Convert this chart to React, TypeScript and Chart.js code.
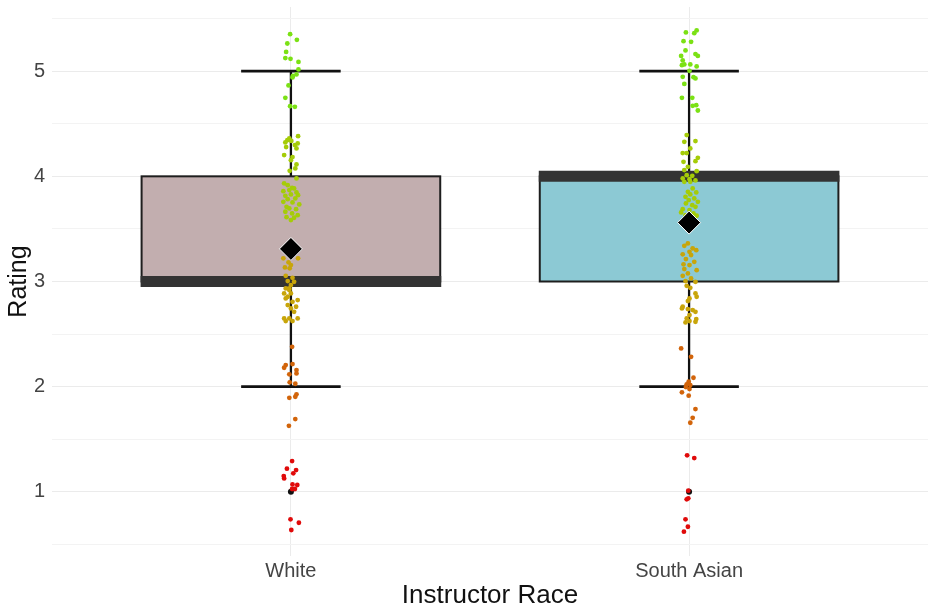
import React, { useEffect, useRef } from 'react';
import { Chart, registerables } from 'chart.js';

Chart.register(...registerables);

const categories = ['White', 'South Asian'];
const boxQ1 = [3, 3];
const boxMedian = [3, 4];
const boxQ3 = [4, 4];
const whiskerLow = [2, 2];
const whiskerHigh = [5, 5];
const means = [3.31, 3.56];
const outliers = [1, 1];
const boxColors = ['#C2AEAF', '#8CC9D4'];
const yTickValues = [0.5, 1, 1.5, 2, 2.5, 3, 3.5, 4, 4.5, 5, 5.5];
const ratingColors: Record<number, string> = {
  1: '#E00A0A',
  2: '#D2640A',
  3: '#C8A50A',
  4: '#A5CC08',
  5: '#7BE114',
};

// jittered observations: [horizontal jitter offset, jittered rating]
const whitePoints: number[][] = [
  [-0.002, 5.352], [0.015, 5.298], [-0.009, 5.263], [-0.012, 5.183], [-0.014, 5.124], [-0.001, 5.117],
  [0.019, 5.088], [0.019, 5.016], [0.014, 4.969], [0.005, 4.955], [0.004, 4.94], [-0.006, 4.864],
  [-0.014, 4.746], [-0.002, 4.667], [0.01, 4.661],
  [0.018, 4.382], [-0.004, 4.36], [-0.009, 4.344], [0.001, 4.337], [-0.014, 4.322], [0.017, 4.313],
  [0.01, 4.297], [-0.012, 4.278], [0.014, 4.265], [-0.017, 4.202], [0.004, 4.183], [0.0, 4.154],
  [0.014, 4.113], [0.011, 4.075], [-0.003, 4.052], [0.014, 3.98], [-0.017, 3.933], [-0.008, 3.916],
  [0.003, 3.891], [-0.019, 3.859], [-0.004, 3.869], [0.008, 3.885], [0.014, 3.847], [-0.014, 3.815],
  [0.0, 3.828], [0.018, 3.821], [-0.008, 3.783], [0.011, 3.79], [-0.019, 3.758], [0.004, 3.752],
  [0.021, 3.733], [-0.011, 3.71], [-0.004, 3.695], [0.013, 3.688], [-0.014, 3.663], [0.003, 3.647],
  [0.017, 3.631], [-0.011, 3.612], [0.008, 3.606], [0.0, 3.584],
  [-0.019, 3.22], [0.018, 3.22], [-0.006, 3.182], [0.0, 3.156], [-0.015, 3.134], [-0.003, 3.125],
  [-0.013, 3.054], [0.004, 3.035], [-0.008, 3.004], [0.008, 2.997], [0.0, 2.966], [-0.004, 2.934],
  [-0.013, 2.934], [-0.004, 2.918], [-0.017, 2.887], [0.0, 2.887], [-0.008, 2.855], [-0.013, 2.839],
  [0.017, 2.823], [0.004, 2.807], [-0.008, 2.776], [0.013, 2.76], [0.0, 2.744], [0.008, 2.712],
  [-0.017, 2.649], [-0.004, 2.649], [0.017, 2.649], [-0.013, 2.624], [0.004, 2.624],
  [0.003, 2.379], [-0.013, 2.205], [-0.017, 2.18], [0.004, 2.215], [0.014, 2.158], [0.014, 2.126],
  [-0.004, 2.117], [-0.003, 2.041], [0.011, 2.028], [-0.004, 1.894], [0.014, 1.927], [0.011, 1.904],
  [0.011, 1.692], [-0.005, 1.628],
  [0.003, 1.293], [-0.01, 1.22], [0.013, 1.207], [0.006, 1.176], [-0.018, 1.15], [-0.017, 1.128],
  [0.004, 1.071], [0.016, 1.065], [0.003, 1.027], [0.01, 1.027], [-0.001, 0.739], [0.02, 0.706],
  [0.001, 0.637],
];

const southAsianPoints: number[][] = [
  [-0.008, 5.368], [0.019, 5.387], [0.013, 5.361], [-0.014, 5.285], [0.005, 5.279], [-0.009, 5.197],
  [0.016, 5.162], [-0.02, 5.145], [0.022, 5.145], [-0.016, 5.102], [-0.012, 5.064], [-0.018, 5.057],
  [0.003, 5.064], [0.019, 5.045], [0.001, 5.003], [-0.016, 4.946], [0.011, 4.943], [-0.012, 4.879],
  [0.016, 4.931], [-0.018, 4.746], [0.008, 4.746], [0.018, 4.677], [0.009, 4.67], [0.022, 4.626],
  [-0.006, 4.392], [-0.012, 4.328], [0.016, 4.335], [0.003, 4.265], [-0.016, 4.221], [-0.006, 4.221],
  [0.022, 4.176], [-0.014, 4.138], [0.016, 4.144], [-0.003, 4.09], [0.019, 4.049], [-0.012, 4.059],
  [-0.006, 4.011], [0.008, 4.005], [-0.016, 3.98], [0.001, 3.973], [0.016, 3.961], [-0.012, 3.948],
  [0.003, 3.948], [0.009, 3.885], [-0.003, 3.853], [0.018, 3.847], [0.003, 3.828], [-0.009, 3.805],
  [0.013, 3.79], [-0.001, 3.774], [0.022, 3.758], [-0.008, 3.742], [0.008, 3.726], [0.016, 3.71],
  [-0.016, 3.688], [0.001, 3.679], [-0.02, 3.657], [0.011, 3.647], [-0.009, 3.631], [0.019, 3.625],
  [-0.003, 3.362], [-0.012, 3.339], [0.009, 3.315], [0.018, 3.298], [0.001, 3.282], [-0.016, 3.258],
  [0.005, 3.251], [-0.008, 3.213], [0.013, 3.187], [-0.014, 3.163], [0.001, 3.156], [-0.012, 3.118],
  [0.019, 3.108], [-0.003, 3.077], [-0.016, 3.054], [0.005, 3.029], [-0.009, 3.004], [0.016, 2.997],
  [-0.006, 2.959], [0.003, 2.94], [0.016, 2.887], [0.019, 2.855], [0.001, 2.839], [-0.003, 2.814],
  [-0.016, 2.76], [-0.018, 2.744], [-0.003, 2.738], [0.009, 2.728], [0.016, 2.712], [0.001, 2.681],
  [-0.006, 2.649], [0.018, 2.643], [0.001, 2.624], [0.016, 2.617], [-0.009, 2.611],
  [-0.02, 2.364], [0.005, 2.284], [0.011, 2.085], [-0.001, 2.047], [-0.006, 2.022], [0.003, 2.015],
  [-0.008, 1.996], [0.001, 1.977], [-0.018, 1.946], [-0.001, 1.914], [0.016, 1.787], [0.009, 1.704],
  [0.003, 1.657],
  [-0.005, 1.347], [0.013, 1.321], [-0.002, 1.011], [-0.006, 0.929], [-0.002, 0.938], [-0.009, 0.739],
  [-0.003, 0.668], [-0.013, 0.621],
];

const pointGroups = [whitePoints, southAsianPoints];

const boxPlugin = {
  id: 'boxplots',
  beforeDatasetsDraw(chart: any) {
    const { ctx } = chart;
    const x = chart.scales.x;
    const y = chart.scales.y;
    ctx.save();
    categories.forEach((_, i) => {
      const c = i + 1;
      const xc = x.getPixelForValue(c);
      const l = x.getPixelForValue(c - 0.375);
      const r = x.getPixelForValue(c + 0.375);
      const cl = x.getPixelForValue(c - 0.125);
      const cr = x.getPixelForValue(c + 0.125);
      const p1 = y.getPixelForValue(boxQ1[i]);
      const p3 = y.getPixelForValue(boxQ3[i]);
      const pm = y.getPixelForValue(boxMedian[i]);
      const plo = y.getPixelForValue(whiskerLow[i]);
      const phi = y.getPixelForValue(whiskerHigh[i]);
      ctx.strokeStyle = '#111111';
      ctx.lineWidth = 2.3;
      ctx.beginPath();
      ctx.moveTo(xc, p3);
      ctx.lineTo(xc, phi);
      ctx.moveTo(xc, p1);
      ctx.lineTo(xc, plo);
      ctx.stroke();
      ctx.lineWidth = 2.6;
      ctx.beginPath();
      ctx.moveTo(cl, phi);
      ctx.lineTo(cr, phi);
      ctx.moveTo(cl, plo);
      ctx.lineTo(cr, plo);
      ctx.stroke();
      ctx.fillStyle = boxColors[i];
      ctx.fillRect(l, p3, r - l, p1 - p3);
      ctx.lineWidth = 2;
      ctx.strokeStyle = '#1e1e1e';
      ctx.strokeRect(l, p3, r - l, p1 - p3);
      ctx.lineWidth = 11;
      ctx.strokeStyle = '#333333';
      ctx.beginPath();
      ctx.moveTo(l - 1, pm);
      ctx.lineTo(r + 1, pm);
      ctx.stroke();
    });
    ctx.restore();
  },
};

export default function App() {
  const ref = useRef<HTMLCanvasElement | null>(null);

  useEffect(() => {
    document.body.style.margin = '0';
    if (!ref.current) return;
    const jitterSets = [1, 2, 3, 4, 5].map((rating) => ({
      type: 'scatter' as const,
      order: 2,
      data: pointGroups.flatMap((pts, gi) =>
        pts.filter((p) => Math.round(p[1]) === rating).map((p) => ({ x: gi + 1 + p[0], y: p[1] }))
      ),
      backgroundColor: ratingColors[rating],
      borderWidth: 0,
      pointRadius: 2.4,
    }));
    const chart = new Chart(ref.current, {
      type: 'scatter',
      data: {
        datasets: [
          {
            order: 0,
            data: means.map((m, i) => ({ x: i + 1, y: m })),
            backgroundColor: '#000000',
            borderColor: '#ffffff',
            borderWidth: 1,
            pointStyle: 'rectRot',
            pointRadius: 11.5,
          },
          ...jitterSets,
          {
            order: 5,
            data: outliers.map((o, i) => ({ x: i + 1, y: o })),
            backgroundColor: '#111111',
            borderWidth: 0,
            pointRadius: 3,
          },
        ] as any,
      },
      options: {
        animation: false,
        responsive: false,
        events: [],
        layout: { autoPadding: false, padding: { top: 7, right: 7, left: 0, bottom: 0 } },
        plugins: { legend: { display: false }, tooltip: { enabled: false } },
        scales: {
          x: {
            type: 'linear',
            min: 0.4,
            max: 2.6,
            afterBuildTicks: (s: any) => {
              s.ticks = categories.map((_, i) => ({ value: i + 1 }));
            },
            afterFit: (s: any) => {
              s.height = 55;
              s.paddingLeft = 0;
              s.paddingRight = 0;
            },
            ticks: {
              autoSkip: false,
              padding: 3,
              color: '#444444',
              font: { family: 'Liberation Sans', size: 20 },
              callback: (v: any) => categories[Math.round(Number(v)) - 1] ?? '',
            },
            grid: { color: '#EBEBEB', lineWidth: 1, drawTicks: false },
            border: { display: false },
            title: {
              display: true,
              text: 'Instructor Race',
              color: '#111111',
              font: { family: 'Liberation Sans', size: 26 },
              padding: { top: 0, bottom: 0 },
            },
          },
          y: {
            type: 'linear',
            min: 0.39,
            max: 5.61,
            afterBuildTicks: (s: any) => {
              s.ticks = yTickValues.map((v) => ({ value: v }));
            },
            afterFit: (s: any) => {
              s.width = 52;
              s.paddingTop = 0;
              s.paddingBottom = 0;
            },
            ticks: {
              autoSkip: false,
              padding: 7,
              color: '#444444',
              font: { family: 'Liberation Sans', size: 20 },
              callback: (v: any) => (Number.isInteger(Number(v)) ? String(v) : ''),
            },
            grid: {
              color: (c: any) => (Number.isInteger(c.tick?.value) ? '#EBEBEB' : '#F3F3F3'),
              lineWidth: 1,
              drawTicks: false,
            },
            border: { display: false },
            title: {
              display: true,
              text: 'Rating',
              color: '#111111',
              font: { family: 'Liberation Sans', size: 25 },
              padding: { top: 4, bottom: 0 },
            },
          },
        },
      },
      plugins: [boxPlugin],
    });
    return () => chart.destroy();
  }, []);

  return (
    <div style={{ position: 'absolute', left: 0, top: 0, width: 935, height: 611 }}>
      <canvas ref={ref} width={935} height={611} />
    </div>
  );
}
